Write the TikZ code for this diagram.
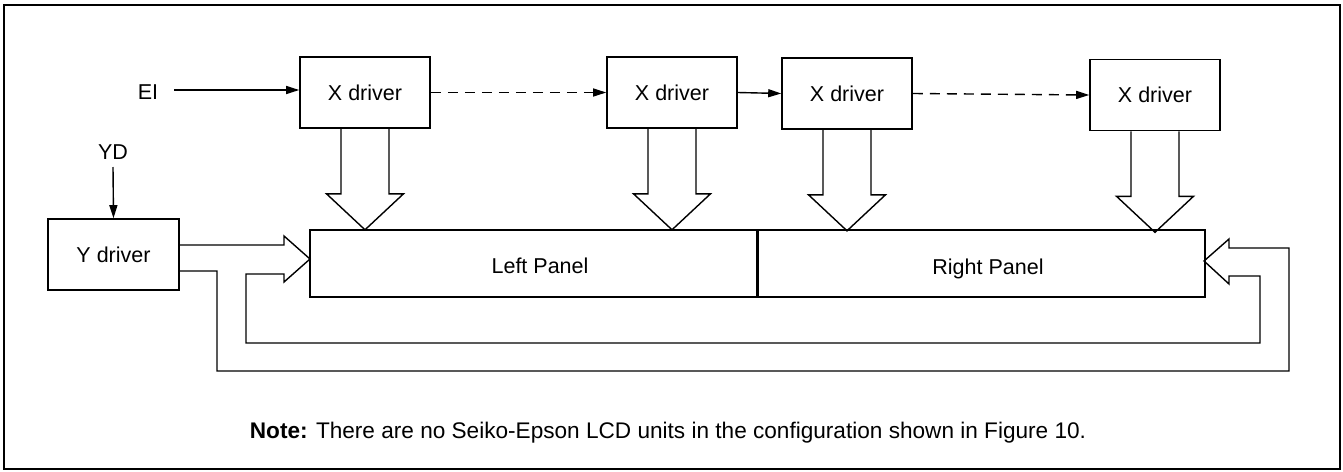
\documentclass[tikz,border=0pt]{standalone}
\usepackage{fontspec}
\setmainfont{Liberation Sans}
\usetikzlibrary{arrows.meta,calc}
\begin{document}
\begin{tikzpicture}[x=1pt,y=-1pt,
  every node/.style={font=\fontsize{21.5}{25}\selectfont,text height=15.4pt,text depth=0pt},
  box/.style={draw,line width=1.6pt,minimum width=130pt,minimum height=71pt,inner sep=0pt},
  panelbox/.style={draw,line width=1.6pt,minimum width=448pt,minimum height=67pt,inner sep=0pt},
  wire/.style={line width=1.4pt},
  arr/.style={wire,-{Triangle[length=13pt,width=8pt]}},
  dasharr/.style={arr,dash pattern=on 10pt off 7pt},
  fat/.style={line width=1.4pt,line join=miter}]
\useasboundingbox (0,0) rectangle (1343,471);
\draw[line width=2.4pt] (4,5) rectangle (1340,469);

\node[box] (x1) at (365,92.5) {X driver};
\node[box] (x2) at (672,92.5) {X driver};
\node[box] (x3) at (847,93.5) {X driver};
\node[box] (x4) at (1155,95) {X driver};
\node[box,minimum width=131pt] (yd) at (113.5,254.5) {Y driver};
\node[panelbox] (lp) at (534,263.5) {};
\node[panelbox] (rp) at (981,263.5) {};
\node (lpt) at ([xshift=6pt,yshift=-2pt]lp.center) {Left Panel};
\node (rpt) at ([xshift=7pt,yshift=-3.5pt]rp.center) {Right Panel};

\node (ei) at (148,91.5) {EI};
\node (ydin) at (113,151.5) {YD};
\coordinate (eis) at (174,90);
\coordinate (yds) at (113,167);

\draw[arr] (eis) -- (x1.west |- eis);
\draw[arr] (yds) -- (yd.north);
\draw[dasharr] (x1.east) -- (x2.west);
\draw[arr] (x2.east) -- (x3.west);
\draw[dasharr] (x3.east) -- (x4.west);

\foreach \n in {x1,x2,x3,x4}{
  \draw[fat] ([xshift=-24pt]\n.south) -- ++(0,65) -- ++(-14.5,0) -- ++(38.5,36)
    -- ++(38.5,-36) -- ++(-14.5,0) -- ++(0,-65);
}

\draw[fat] (yd.east |- {(0,271)}) -- (217,271) -- (217,371) -- (1289,371) -- (1289,248)
  -- (1229,248) -- (1229,239) -- (1204,261) -- (1229,284) -- (1229,276) -- (1260,276)
  -- (1260,343) -- (246,343) -- (246,274) -- (284,274) -- (284,282) -- (310,259)
  -- (284,236) -- (284,245) -- (yd.east |- {(0,245)});

\node[font=\fontsize{22.6}{26}\selectfont,text height=16.2pt] (note) at (668,430) {\textbf{Note:} There are no Seiko-Epson LCD units in the configuration shown in Figure 10.};
\end{tikzpicture}
\end{document}
